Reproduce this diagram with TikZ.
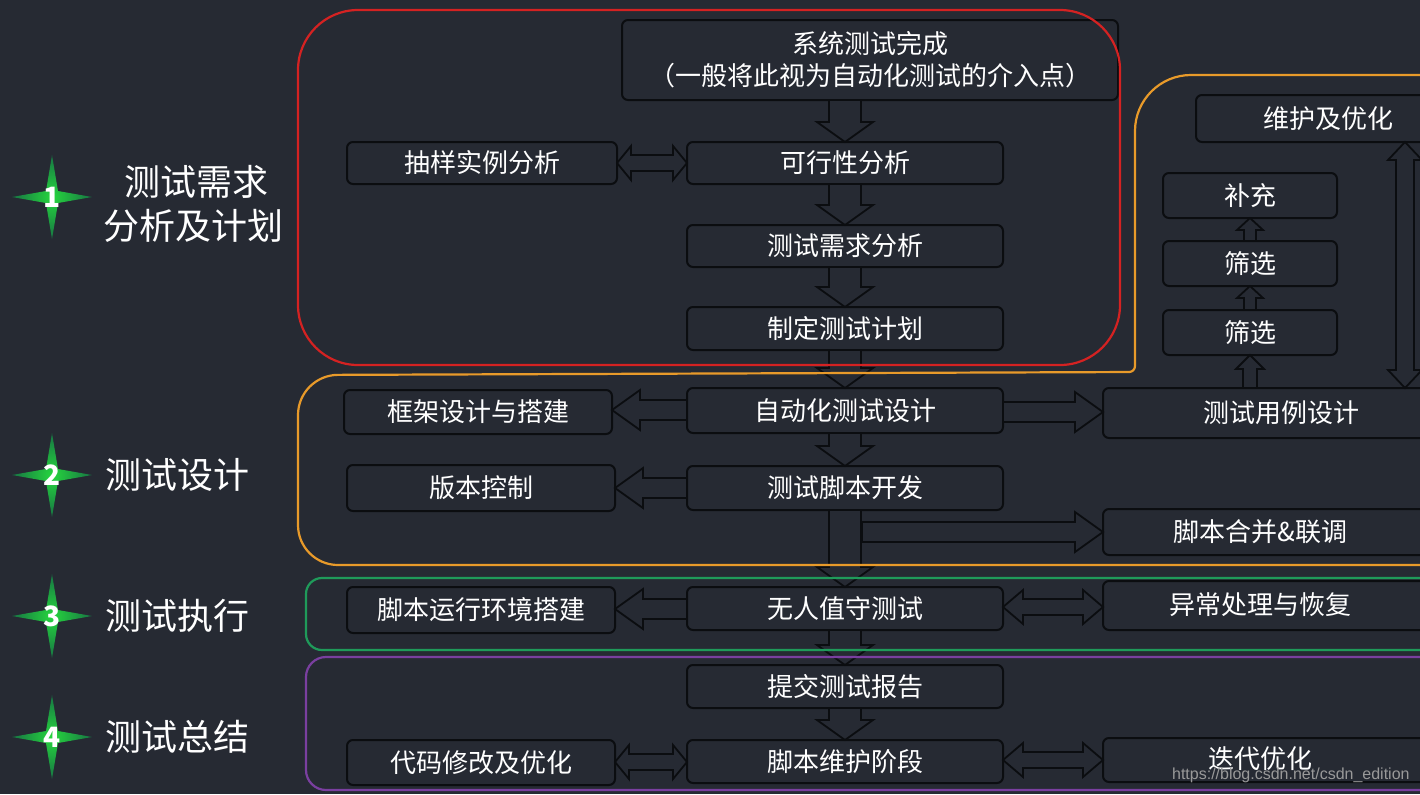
\documentclass[tikz,border=0pt]{standalone}
\usepackage{fontspec}
\setmainfont{Noto Sans CJK SC}
\newfontfamily\wmfont{Liberation Sans}
\definecolor{bg}{HTML}{262A33}
\definecolor{bline}{HTML}{0B0D10}
\definecolor{cred}{HTML}{D42222}
\definecolor{corange}{HTML}{E89A2A}
\definecolor{cgreen}{HTML}{1F9A5A}
\definecolor{cpurple}{HTML}{7A3FA0}
\tikzset{
  box/.style={draw=bline, line width=1pt, fill=bg, rounded corners=3pt, text=white, font=\fontsize{13}{16}\selectfont, inner sep=0pt, align=center},
  barrow/.style={draw=bline, line width=0.9pt, fill=bg, line join=miter},
  frame/.style={line width=1.1pt},
  lab/.style={text=white, font=\fontsize{18}{22}\selectfont, align=center, inner sep=0pt},
}
\newcommand\bx[6]{\node[box, minimum width={(#4-#2)*0.5pt}, minimum height={(#5-#3)*0.5pt}] (#1) at ({(#2+#4)/2},{(#3+#5)/2}) {#6};}
\newcommand\darr[3]{\draw[barrow] ({#1-16},#2) -- ({#1+16},#2) -- ({#1+16},{#3-20}) -- ({#1+28},{#3-20}) -- (#1,#3) -- ({#1-28},{#3-20}) -- ({#1-16},{#3-20}) -- cycle;}
\newcommand\harr[6]{\draw[barrow] (#1,{#3-#4}) -- ({#2-#6},{#3-#4}) -- ({#2-#6},{#3-#5}) -- (#2,#3) -- ({#2-#6},{#3+#5}) -- ({#2-#6},{#3+#4}) -- (#1,{#3+#4}) -- cycle;}
\newcommand\dharr[6]{\draw[barrow] (#1,#3) -- ({#1+#6},{#3-#5}) -- ({#1+#6},{#3-#4}) -- ({#2-#6},{#3-#4}) -- ({#2-#6},{#3-#5}) -- (#2,#3) -- ({#2-#6},{#3+#5}) -- ({#2-#6},{#3+#4}) -- ({#1+#6},{#3+#4}) -- ({#1+#6},{#3+#5}) -- cycle;}
\newcommand\varr[6]{\draw[barrow] ({#1-#4},#2) -- ({#1-#4},{#3-#6}) -- ({#1-#5},{#3-#6}) -- (#1,#3) -- ({#1+#5},{#3-#6}) -- ({#1+#4},{#3-#6}) -- ({#1+#4},#2) -- cycle;}
\newcommand\dvarr[6]{\draw[barrow] (#1,#2) -- ({#1+#5},{#2+#6}) -- ({#1+#4},{#2+#6}) -- ({#1+#4},{#3-#6}) -- ({#1+#5},{#3-#6}) -- (#1,#3) -- ({#1-#5},{#3-#6}) -- ({#1-#4},{#3-#6}) -- ({#1-#4},{#2+#6}) -- ({#1-#5},{#2+#6}) -- cycle;}
\newcommand\mystar[3]{%
  \shade[inner color=green!55!cgreen!90!white, outer color=cgreen!75!black] (52,{#1-42}) -- (58,{#1-6}) -- (92,#1) -- (58,{#1+6}) -- (52,{#1+42}) -- (46,{#1+6}) -- (12,#1) -- (46,{#1-6}) -- cycle;
  \node[text=white, font=\bfseries\fontsize{14}{14}\selectfont, inner sep=0pt] (#3) at (52,#1) {#2};}
\begin{document}
\begin{tikzpicture}[x=0.5pt,y=-0.5pt]
\useasboundingbox (0,0) rectangle (1420,794);
\clip (0,0) rectangle (1420,794);
\fill[bg] (0,0) rectangle (1420,794);
% stars and labels
\mystar{197}{1}{s1}
\mystar{475}{2}{s2}
\mystar{616}{3}{s3}
\mystar{737}{4}{s4}
\node[lab] (l1) at (193,204) {\,测试需求\\分析及计划};
\node[lab, anchor=west] (l2) at (105,475) {测试设计};
\node[lab, anchor=west] (l3) at (105,616) {测试执行};
\node[lab, anchor=west] (l4) at (105,737) {测试总结};
% boxes
\bx{a0}{622}{20}{1118}{100}{系统测试完成\\（一般将此视为自动化测试的介入点）}
\bx{a1}{347}{142}{617}{184}{抽样实例分析}
\bx{a2}{687}{142}{1003}{184}{可行性分析}
\bx{a3}{687}{225}{1003}{267}{测试需求分析}
\bx{a4}{687}{307}{1003}{350}{制定测试计划}
\bx{r0}{1196}{95}{1460}{142}{维护及优化}
\bx{r1}{1163}{173}{1337}{218}{补充}
\bx{r2}{1163}{241}{1337}{286}{筛选}
\bx{r3}{1163}{310}{1337}{355}{筛选}
\bx{b1}{344}{390}{612}{434}{框架设计与搭建}
\bx{b2}{687}{388}{1003}{433}{自动化测试设计}
\bx{b3}{1103}{388}{1460}{438}{测试用例设计}
\bx{b4}{347}{465}{615}{511}{版本控制}
\bx{b5}{687}{466}{1003}{510}{测试脚本开发}
\bx{b6}{1103}{509}{1460}{555}{\hspace*{-21pt}脚本合并\&联调}
\bx{c1}{347}{587}{615}{633}{脚本运行环境搭建}
\bx{c2}{687}{587}{1003}{630}{无人值守测试}
\bx{c3}{1103}{581}{1460}{630}{\hspace*{-21pt}\raisebox{2pt}{异常处理与恢复}}
\bx{d1}{687}{665}{1003}{708}{提交测试报告}
\bx{d2}{347}{740}{615}{785}{代码修改及优化}
\bx{d3}{687}{740}{1003}{783}{脚本维护阶段}
\bx{d4}{1103}{738}{1460}{782}{\hspace*{-21pt}\raisebox{2pt}{迭代优化}}
% arrows
\darr{845}{100}{142}
\darr{845}{184}{225}
\darr{845}{267}{307}
\darr{845}{350}{388}
\darr{845}{433}{466}
\darr{845}{510}{587}
\darr{845}{630}{665}
\darr{845}{708}{740}
\dharr{617}{687}{163}{8}{17}{14}
\harr{687}{612}{410}{10}{20}{-28}
\harr{687}{615}{488}{10}{20}{-28}
\harr{1003}{1103}{412}{10}{20}{28}
\harr{862}{1103}{532}{10}{20}{28}
\harr{687}{615}{609}{10}{20}{-28}
\dharr{1003}{1103}{607}{8}{17}{20}
\dharr{615}{687}{762}{8}{17}{14}
\dharr{1003}{1103}{760}{8}{17}{20}
\varr{1250}{388}{355}{7}{14}{-14}
\varr{1250}{310}{286}{6}{13}{-12}
\varr{1250}{241}{218}{6}{13}{-12}
\dvarr{1405}{142}{388}{9}{17}{18}
% frames
\draw[frame, cred] (298,10) [rounded corners=30pt] rectangle (1120,365);
\draw[frame, corange] (1430,75) [rounded corners=28pt] -- (1135,75) [rounded corners=3pt] -- (1135,372) [rounded corners=20pt] -- (298,375) -- (298,565) [sharp corners] -- (1430,565);
\draw[frame, cgreen] (306,578) [rounded corners=8pt] -- (1440,578) -- (1440,650) -- (306,650) -- cycle;
\draw[frame, cpurple] (306,657) [rounded corners=10pt] -- (1440,657) -- (1440,790) -- (306,790) -- cycle;
\node[text=gray!80, font=\wmfont\fontsize{8}{8}\selectfont, anchor=east, inner sep=0pt] (wm) at (1410,775) {https://blog.csdn.net/csdn\_edition};
\end{tikzpicture}
\end{document}
